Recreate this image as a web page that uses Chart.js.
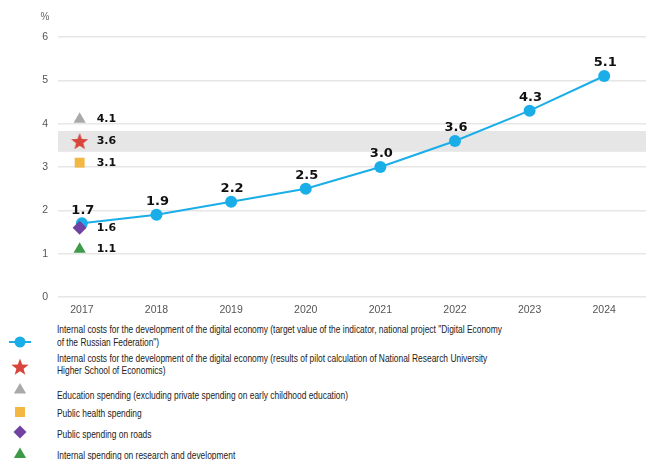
<!DOCTYPE html>
<html>
<head>
<meta charset="utf-8">
<script src="https://cdn.jsdelivr.net/npm/chart.js@4.4.0/dist/chart.umd.min.js"></script>
<style>
  body { margin: 0; background: #fff; width: 646px; height: 460px; overflow: hidden; position: relative; }
  #wrap { position: absolute; left: 0; top: 0; width: 646px; height: 320px; }
  #icons { position: absolute; left: 0; top: 320px; }
  .lg { position: absolute; left: 57px; font: 11px/12.5px "Liberation Sans", sans-serif; color: #222; white-space: nowrap;
        transform: scaleX(0.765); transform-origin: 0 0; }
</style>
</head>
<body>
<div id="wrap"><canvas id="chart" width="646" height="320"></canvas></div>
<svg id="icons" width="56" height="140"></svg>
<div id="legend"></div>
<script>
// data
const years = [2017, 2018, 2019, 2020, 2021, 2022, 2023, 2024];
const targetValues = [1.7, 1.9, 2.2, 2.5, 3.0, 3.6, 4.3, 5.1];
const compareYear = 2017;
const compareNames = ['pilot', 'education', 'health', 'roads', 'rnd'];
const compareValues = [3.6, 4.1, 3.1, 1.6, 1.1];
const bandRange = [3.35, 3.83];
const legendLines = [
    ['Internal costs for the development of the digital economy (target value of the indicator, national project "Digital Economy', 'of the Russian Federation")'],
    ['Internal costs for the development of the digital economy (results of pilot calculation of National Research University', 'Higher School of Economics)'],
    ['Education spending (excluding private spending on early childhood education)'],
    ['Public health spending'],
    ['Public spending on roads'],
    ['Internal spending on research and development']
];

const blue = '#1aaee8';
const compareColors = ['#d8453b', '#a9a9a9', '#f2b843', '#7142a0', '#3f9a48'];

// filled 5 point star for the pilot calculation marker
function makeStar(r, color) {
    const c = document.createElement('canvas');
    c.width = c.height = Math.ceil(r * 2 + 2);
    const g = c.getContext('2d');
    const cx = c.width / 2, cy = c.height / 2 + 1;
    g.beginPath();
    for (let i = 0; i < 10; i++) {
        const rad = i % 2 ? r * 0.42 : r;
        const a = -Math.PI / 2 + i * Math.PI / 5;
        g.lineTo(cx + Math.cos(a) * rad, cy + Math.sin(a) * rad);
    }
    g.closePath();
    g.fillStyle = color;
    g.fill();
    return c;
}
const starImg = makeStar(9, compareColors[0]);
const compareStyles = [starImg, 'triangle', 'rect', 'rectRot', 'triangle'];
const compareRadius = [9, 7, 7, 7, 7];

const datasets = [{
    label: 'target',
    data: years.map((y, i) => ({ x: y, y: targetValues[i] })),
    showLine: true,
    borderColor: blue,
    backgroundColor: blue,
    borderWidth: 2,
    pointRadius: 6,
    pointBorderWidth: 0,
    pointHoverRadius: 6,
    order: 1
}];
compareNames.forEach((n, i) => {
    datasets.push({
        label: n,
        data: [{ x: compareYear - 0.03, y: compareValues[i] }],
        showLine: false,
        pointStyle: compareStyles[i],
        pointRadius: compareRadius[i],
        backgroundColor: compareColors[i],
        borderColor: compareColors[i],
        pointBorderWidth: 0,
        order: 0
    });
});

const extras = {
    id: 'extras',
    beforeDatasetsDraw(chart) {
        const { ctx, chartArea, scales } = chart;
        const y1 = scales.y.getPixelForValue(bandRange[1]);
        const y0 = scales.y.getPixelForValue(bandRange[0]);
        ctx.save();
        ctx.fillStyle = '#e6e6e6';
        ctx.fillRect(chartArea.left, y1, chartArea.right - chartArea.left, y0 - y1);
        ctx.restore();
    },
    afterDatasetsDraw(chart) {
        const { ctx } = chart;
        ctx.save();
        ctx.fillStyle = '#111';
        ctx.textBaseline = 'middle';
        // values over the target line
        ctx.font = 'bold 13px "DejaVu Sans"';
        ctx.textAlign = 'center';
        chart.getDatasetMeta(0).data.forEach((p, i) => {
            ctx.fillText(targetValues[i].toFixed(1), p.x + 1, p.y - 13);
        });
        // values next to the single markers
        ctx.font = 'bold 11px "DejaVu Sans"';
        ctx.textAlign = 'left';
        compareValues.forEach((v, i) => {
            const p = chart.getDatasetMeta(i + 1).data[0];
            ctx.fillText(v.toFixed(1), p.x + 17, p.y);
        });
        // unit
        ctx.font = '10px "Liberation Sans"';
        ctx.fillStyle = '#666';
        ctx.textAlign = 'center';
        ctx.fillText('%', 45, 17);
        ctx.restore();
    }
};

new Chart(document.getElementById('chart'), {
    type: 'scatter',
    data: { datasets: datasets },
    options: {
        responsive: false,
        animation: false,
        layout: { autoPadding: false, padding: { top: 37, left: 0, right: 0, bottom: 0 } },
        plugins: { legend: { display: false }, tooltip: { enabled: false } },
        scales: {
            x: {
                type: 'linear',
                min: 2016.68,
                max: 2024.56,
                grid: { display: false, drawTicks: false },
                border: { display: false },
                ticks: {
                    stepSize: 1,
                    includeBounds: false,
                    padding: 7,
                    color: '#555',
                    font: { family: 'Liberation Sans', size: 10.5 },
                    callback: (v) => Number.isInteger(v) ? String(v) : ''
                },
                afterFit: (s) => { s.height = 23; s.paddingLeft = 0; s.paddingRight = 0; }
            },
            y: {
                min: 0,
                max: 6,
                grid: { color: '#e6e6e6', lineWidth: 1.5, drawTicks: false },
                border: { display: false },
                ticks: {
                    stepSize: 1,
                    padding: 10,
                    color: '#555',
                    font: { family: 'Liberation Sans', size: 10.5 }
                },
                afterFit: (s) => { s.width = 58; s.paddingTop = 0; s.paddingBottom = 0; }
            }
        }
    },
    plugins: [extras]
});

// legend (html text + svg swatches)
const legendTops = [323, 351.5, 389, 407, 428, 449];
const legend = document.getElementById('legend');
legendLines.forEach((lines, i) => {
    const d = document.createElement('div');
    d.className = 'lg';
    d.style.top = legendTops[i] + 'px';
    d.innerHTML = lines.map(t => t.replace(/&/g, '&amp;').replace(/</g, '&lt;')).join('<br>');
    legend.appendChild(d);
});

function triPts(cx, cy, r) {
    const pts = [];
    for (let k = 0; k < 3; k++) {
        const a = -Math.PI / 2 + k * 2 * Math.PI / 3;
        pts.push((cx + Math.cos(a) * r).toFixed(1) + ',' + (cy + Math.sin(a) * r).toFixed(1));
    }
    return pts.join(' ');
}
function starPts(cx, cy, r) {
    const pts = [];
    for (let k = 0; k < 10; k++) {
        const rad = k % 2 ? r * 0.42 : r;
        const a = -Math.PI / 2 + k * Math.PI / 5;
        pts.push((cx + Math.cos(a) * rad).toFixed(1) + ',' + (cy + Math.sin(a) * rad).toFixed(1));
    }
    return pts.join(' ');
}
document.getElementById('icons').innerHTML =
    '<line x1="9" y1="22" x2="31" y2="22" stroke="' + blue + '" stroke-width="2"/>' +
    '<circle cx="20" cy="22" r="5.5" fill="' + blue + '"/>' +
    '<polygon points="' + starPts(20, 47.5, 9) + '" fill="' + compareColors[0] + '"/>' +
    '<polygon points="' + triPts(20, 70, 7) + '" fill="' + compareColors[1] + '"/>' +
    '<rect x="15" y="87" width="10" height="10" fill="' + compareColors[2] + '"/>' +
    '<polygon points="20,105.5 26.5,112 20,118.5 13.5,112" fill="' + compareColors[3] + '"/>' +
    '<polygon points="' + triPts(20, 134.5, 7) + '" fill="' + compareColors[4] + '"/>';
</script>
</body>
</html>
